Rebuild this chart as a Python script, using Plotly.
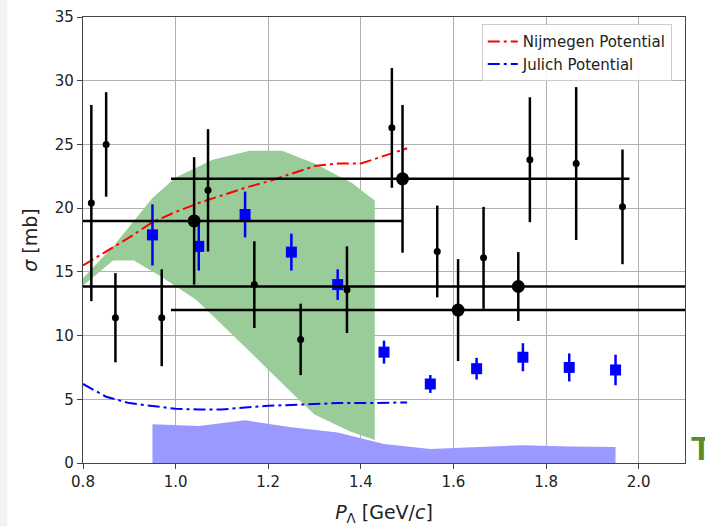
import plotly.graph_objects as go

# Theory curves
x_theory = [0.80, 0.85, 0.90, 0.95, 1.00, 1.05, 1.10, 1.15, 1.20, 1.25, 1.30, 1.35, 1.40, 1.45, 1.50]
nijmegen = [15.5, 16.6, 17.7, 18.9, 19.7, 20.4, 21.0, 21.6, 22.1, 22.7, 23.3, 23.5, 23.5, 24.1, 24.7]
julich = [6.2, 5.2, 4.7, 4.45, 4.25, 4.2, 4.2, 4.35, 4.5, 4.55, 4.65, 4.7, 4.7, 4.75, 4.75]

# Green uncertainty band (upper edge left->right, lower edge right->left)
band_x_up = [0.80, 0.87, 0.95, 1.00, 1.08, 1.16, 1.23, 1.30, 1.38, 1.43]
band_y_up = [14.5, 17.2, 20.8, 22.4, 23.8, 24.5, 24.5, 23.5, 22.0, 20.6]
band_x_lo = [1.43, 1.376, 1.30, 1.268, 1.15, 1.045, 0.97, 0.91, 0.865, 0.80]
band_y_lo = [1.8, 2.5, 3.8, 4.9, 9.1, 12.8, 14.6, 15.9, 15.9, 13.9]

# Small black points
x_s = [0.818, 0.85, 0.87, 0.97, 1.07, 1.17, 1.27, 1.37, 1.467, 1.565, 1.665, 1.765, 1.865, 1.965]
y_s = [20.4, 25.0, 11.4, 11.4, 21.4, 14.0, 9.7, 13.6, 26.3, 16.6, 16.1, 23.8, 23.5, 20.1]
e_s = [7.7, 4.1, 3.5, 3.8, 4.8, 3.4, 2.8, 3.4, 4.7, 3.6, 4.0, 4.9, 6.0, 4.5]

# Large black points with momentum bins
x_b = [1.04, 1.49, 1.61, 1.74]
y_b = [19.0, 22.3, 12.0, 13.85]
ey_b = [5.0, 5.8, 4.0, 2.7]
ex_minus = [0.24, 0.50, 0.62, 0.94]
ex_plus = [0.45, 0.49, 0.49, 0.36]

# Blue squares with systematic band
x_q = [0.95, 1.05, 1.15, 1.25, 1.35, 1.45, 1.55, 1.65, 1.75, 1.85, 1.95]
y_q = [17.9, 17.0, 19.5, 16.55, 14.0, 8.7, 6.2, 7.4, 8.3, 7.5, 7.3]
e_q = [2.4, 1.9, 1.8, 1.45, 1.2, 0.9, 0.7, 0.85, 1.1, 1.1, 1.2]
sys_q = [3.05, 2.9, 3.35, 2.8, 2.4, 1.5, 1.1, 1.25, 1.4, 1.3, 1.25]

dashdot = "12px,4px,3px,4px"

fig = go.Figure()

fig.add_trace(go.Scatter(
    x=band_x_up + band_x_lo, y=band_y_up + band_y_lo, mode="lines",
    fill="toself", fillcolor="#99cc99", line=dict(width=0), showlegend=False, hoverinfo="skip"))

fig.add_trace(go.Scatter(
    x=x_q, y=sys_q, mode="lines", fill="tozeroy", fillcolor="#9999ff",
    line=dict(width=0, color="#9999ff"), showlegend=False, hoverinfo="skip"))

fig.add_trace(go.Scatter(
    x=x_theory, y=nijmegen, mode="lines", name="Nijmegen Potential",
    line=dict(color="#ff0000", width=2, dash=dashdot)))
fig.add_trace(go.Scatter(
    x=x_theory, y=julich, mode="lines", name="Julich Potential",
    line=dict(color="#0000ff", width=2, dash=dashdot)))

fig.add_trace(go.Scatter(
    x=x_q, y=y_q, mode="markers", showlegend=False,
    marker=dict(symbol="square", size=11, color="#0000ff"),
    error_y=dict(type="data", array=e_q, color="#0000ff", thickness=2.5, width=0)))

fig.add_trace(go.Scatter(
    x=x_s, y=y_s, mode="markers", showlegend=False,
    marker=dict(symbol="circle", size=7, color="black"),
    error_y=dict(type="data", array=e_s, color="black", thickness=2.5, width=0)))

fig.add_trace(go.Scatter(
    x=x_b, y=y_b, mode="markers", showlegend=False,
    marker=dict(symbol="circle", size=13, color="black"),
    error_y=dict(type="data", array=ey_b, color="black", thickness=2.5, width=0),
    error_x=dict(type="data", array=ex_plus, arrayminus=ex_minus, symmetric=False,
                 color="black", thickness=2.5, width=0)))

axis_common = dict(
    showgrid=True, gridcolor="#b0b0b0", gridwidth=1,
    showline=True, linecolor="#444444", linewidth=1.3, mirror=True,
    ticks="outside", ticklen=5, tickwidth=1.2, tickcolor="#444444",
    tickfont=dict(family="DejaVu Sans", size=15, color="#222222"),
    zeroline=False, automargin=False,
)

fig.update_xaxes(range=[0.8, 2.1], tickvals=[0.8, 1.0, 1.2, 1.4, 1.6, 1.8, 2.0],
                 ticktext=["0.8", "1.0", "1.2", "1.4", "1.6", "1.8", "2.0"],
                 title=dict(text="<i>P</i><sub>Λ</sub> [GeV/<i>c</i>]",
                            font=dict(family="DejaVu Sans", size=19, color="#222222"), standoff=16),
                 **axis_common)
fig.update_yaxes(range=[0, 35], tickvals=[0, 5, 10, 15, 20, 25, 30, 35],
                 title=dict(text="<i>σ</i> [mb]",
                            font=dict(family="DejaVu Sans", size=19, color="#222222"), standoff=12),
                 **axis_common)

fig.add_shape(type="rect", xref="paper", yref="paper", x0=-0.2, x1=-0.126, y0=-0.2, y1=1.1,
              fillcolor="#f2f2f2", line=dict(width=0), layer="below")

fig.add_annotation(text="<b>T</b>", xref="paper", yref="paper", x=1.0115, y=0.0,
                   xanchor="left", yanchor="bottom", showarrow=False, yshift=-6, xshift=-3,
                   font=dict(family="Liberation Sans", size=34, color="#5b8c2a"))

fig.update_layout(
    width=705, height=526,
    margin=dict(l=83, r=20, t=17, b=63),
    paper_bgcolor="white", plot_bgcolor="white",
    legend=dict(x=0.978, y=0.984, xanchor="right", yanchor="top",
                bgcolor="rgba(255,255,255,0.9)", bordercolor="#cccccc", borderwidth=1,
                font=dict(family="DejaVu Sans", size=15, color="#222222"),
                tracegroupgap=0),
    showlegend=True,
)

fig.write_html("out.html")
